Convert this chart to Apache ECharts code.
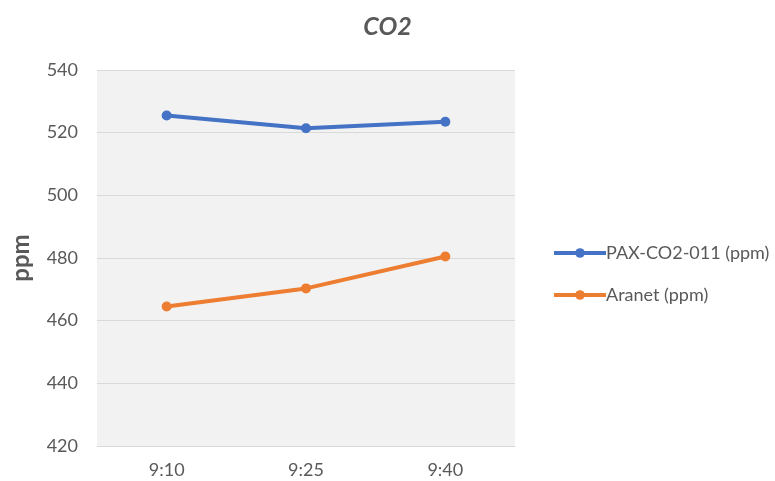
<!DOCTYPE html>
<html>
<head>
<meta charset="utf-8">
<script src="https://cdn.jsdelivr.net/npm/echarts@6/dist/echarts.min.js"></script>
<style>
  html, body { margin: 0; padding: 0; background: #ffffff; }
  #chart { width: 775px; height: 481px; }
</style>
</head>
<body>
<div id="chart"></div>
<script>
// Sample times along the x axis
const times = ['9:10', '9:25', '9:40'];
// CO2 readings from each sensor, in ppm
const paxValues = [525.5, 521.4, 523.5];
const aranetValues = [464.5, 470.3, 480.5];
// Value axis range
const yMin = 420;
const yMax = 540;
const yStep = 20;

const textColor = '#595959';
const fontFamily = 'Lato, "Liberation Sans", sans-serif';

const chart = echarts.init(document.getElementById('chart'));
chart.setOption({
  animation: false,
  backgroundColor: '#ffffff',
  title: {
    text: 'CO2',
    left: 'center',
    top: 9,
    textStyle: {
      color: textColor,
      fontFamily: fontFamily,
      fontSize: 25,
      fontWeight: 'bold',
      fontStyle: 'italic'
    }
  },
  grid: {
    left: 97,
    top: 70,
    width: 418,
    height: 376,
    show: true,
    backgroundColor: '#f2f2f2',
    borderWidth: 0
  },
  legend: {
    orient: 'vertical',
    left: 547,
    top: 239,
    itemWidth: 52,
    itemHeight: 12,
    itemGap: 24,
    lineStyle: { width: 4 },
    textStyle: {
      color: textColor,
      fontFamily: fontFamily,
      fontSize: 18,
      padding: [0, 0, 0, -5]
    },
    data: ['PAX-CO2-011 (ppm)', 'Aranet (ppm)']
  },
  xAxis: {
    type: 'category',
    data: times,
    boundaryGap: true,
    axisLine: { show: false },
    axisTick: { show: false },
    axisLabel: {
      color: textColor,
      fontFamily: fontFamily,
      fontSize: 18,
      margin: 15
    }
  },
  yAxis: {
    type: 'value',
    min: yMin,
    max: yMax,
    interval: yStep,
    name: 'ppm',
    nameLocation: 'middle',
    nameGap: 64,
    nameTextStyle: {
      color: textColor,
      fontFamily: fontFamily,
      fontSize: 24,
      fontWeight: 'bold'
    },
    axisLine: { show: false },
    axisTick: { show: false },
    axisLabel: {
      color: textColor,
      fontFamily: fontFamily,
      fontSize: 18,
      margin: 19
    },
    splitLine: { lineStyle: { color: '#d9d9d9', width: 1 } }
  },
  series: [
    {
      name: 'PAX-CO2-011 (ppm)',
      type: 'line',
      data: paxValues,
      symbol: 'circle',
      symbolSize: 10,
      lineStyle: { color: '#4472c4', width: 4 },
      itemStyle: { color: '#4472c4' }
    },
    {
      name: 'Aranet (ppm)',
      type: 'line',
      data: aranetValues,
      symbol: 'circle',
      symbolSize: 10,
      lineStyle: { color: '#ed7d31', width: 4 },
      itemStyle: { color: '#ed7d31' }
    }
  ]
});
</script>
</body>
</html>
